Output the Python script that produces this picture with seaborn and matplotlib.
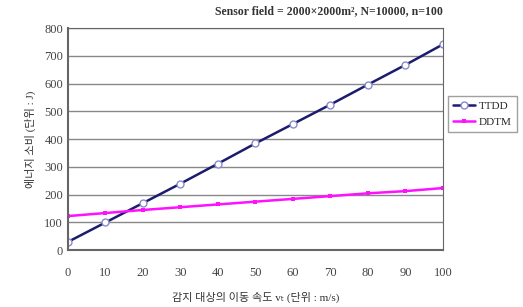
import numpy as np
import pandas as pd
import seaborn as sns
import matplotlib.pyplot as plt

# valores
velocidad = [0, 10, 20, 30, 40, 50, 60, 70, 80, 90, 100]
ttdd = [30, 100, 170, 240, 312, 385, 455, 525, 597, 668, 742]
ddtm = [123, 134, 145, 155, 165, 175, 185, 195, 205, 213, 224]

datos = pd.DataFrame({'v': velocidad * 2,
                      'e': ttdd + ddtm,
                      'serie': ['TTDD'] * len(velocidad) + ['DDTM'] * len(velocidad)})

sns.set_style('white')
plt.rcParams['font.family'] = ['Liberation Serif', 'Noto Sans CJK KR', 'DejaVu Sans']

fig, ax = plt.subplots(figsize=(5.23, 3.07), dpi=100)
fig.subplots_adjust(left=0.13, right=0.847, top=0.908, bottom=0.185)

sns.lineplot(data=datos[datos.serie == 'TTDD'], x='v', y='e', ax=ax, color='#1c1c6e',
             linewidth=1.8, marker='o', markersize=5, markerfacecolor='white',
             markeredgecolor='#8a8acc', markeredgewidth=1, label='TTDD')
sns.lineplot(data=datos[datos.serie == 'DDTM'], x='v', y='e', ax=ax, color='#ff10ff',
             linewidth=1.8, marker='s', markersize=3.5, markeredgewidth=0, label='DDTM')

ax.set_xlim(0, 100)
ax.set_ylim(0, 800)
ax.set_xticks(range(0, 101, 10))
ax.set_yticks(range(0, 801, 100))
ax.yaxis.grid(True, color='#888888', linewidth=1)
ax.tick_params(axis='both', labelsize=9, colors='#444444', length=3, direction='in')
ax.tick_params(axis='x', pad=12)
for s in ax.spines.values():
    s.set_color('#666666')
ax.spines['left'].set_linewidth(1.5)
ax.spines['bottom'].set_linewidth(1.5)

ax.set_xlabel('감지 대상의 이동 속도 vₜ (단위 : m/s)', fontsize=8, color='#333333',
              labelpad=9, fontweight='medium')
ax.set_ylabel('에너지 소비 (단위 : J)', fontsize=8, color='#333333',
              labelpad=6, fontweight='medium')
ax.set_title('Sensor field = 2000×2000m², N=10000, n=100', fontsize=8.5,
             fontweight='semibold', color='#333333', loc='right', pad=10)

ax.legend(loc='upper left', bbox_to_anchor=(1.005, 0.71), frameon=True, fancybox=False,
          edgecolor='#888888', fontsize=8, handlelength=2.0, borderpad=0.45,
          handletextpad=0.3, labelspacing=0.6, borderaxespad=0.3)

fig.savefig('out.png', dpi=100)
